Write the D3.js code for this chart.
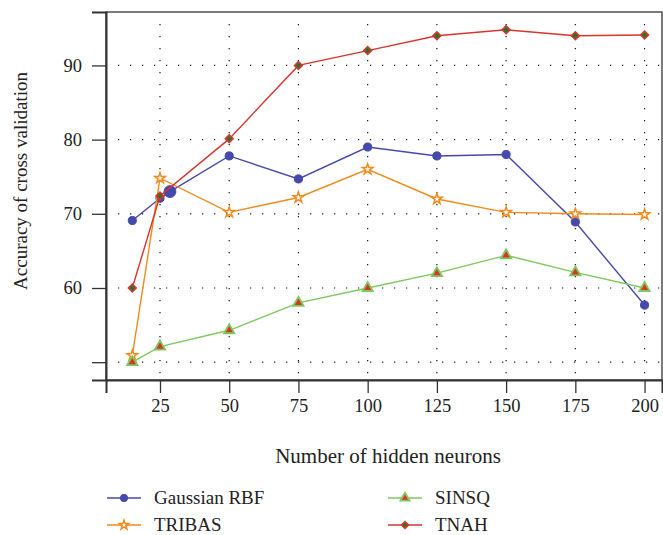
<!DOCTYPE html>
<html>
<head>
<meta charset="utf-8">
<script src="https://cdn.jsdelivr.net/npm/d3@7"></script>
<style>
  html, body { margin: 0; padding: 0; background: #fff; }
  #chart-container { width: 663px; height: 535px; }
  text { font-family: "Liberation Serif", "DejaVu Serif", serif; fill: #222; }
</style>
</head>
<body>
<div id="chart-container"></div>
<script>
// --- Data ---
const neurons = [15, 25, 50, 75, 100, 125, 150, 175, 200];
const xTicks = [25, 50, 75, 100, 125, 150, 175, 200];
const yTicks = [50, 60, 70, 80, 90];
const yTickLabels = ["", "60", "70", "80", "90"];

const gaussianRBF = [69.1, 72.1, 77.8, 74.7, 79.0, 77.8, 78.0, 68.9, 57.7];
const tribas = [50.9, 74.8, 70.2, 72.2, 76.0, 72.0, 70.2, 70.0, 69.9];
const sinsq = [50.0, 52.1, 54.3, 58.0, 60.0, 62.0, 64.4, 62.1, 60.0];
const tnah = [60.0, 72.4, 80.1, 90.0, 92.0, 94.0, 94.8, 94.0, 94.1];

// stray extra point on the Gaussian RBF curve (drawn bigger in the original)
const rbfExtra = { x: 28.6, y: 73.0 };

const seriesNames = ["Gaussian RBF", "TRIBAS", "SINSQ", "TNAH"];

// --- Configuration ---
const width = 663;
const height = 535;
const margin = { top: 12, right: 1, bottom: 155, left: 106 };

const x = d3.scaleLinear()
    .domain([5.5, 206.3])
    .range([margin.left, width - margin.right]);

const y = d3.scaleLinear()
    .domain([47.6, 97.2])
    .range([height - margin.bottom, margin.top]);

const svg = d3.select("#chart-container")
    .append("svg")
    .attr("width", width)
    .attr("height", height);

// --- Grid (dotted) ---
const grid = svg.append("g");
grid.selectAll(".hgrid")
    .data(yTicks)
    .enter()
    .append("line")
    .attr("x1", x.range()[0] + 12).attr("x2", x.range()[1])
    .attr("y1", d => y(d)).attr("y2", d => y(d))
    .attr("stroke", "#111").attr("stroke-width", 1.2)
    .attr("stroke-dasharray", "1.2,10.8");

grid.selectAll(".vgrid")
    .data(xTicks)
    .enter()
    .append("line")
    .attr("x1", d => x(d)).attr("x2", d => x(d))
    .attr("y1", y.range()[1] + 12).attr("y2", y.range()[0])
    .attr("stroke", "#111").attr("stroke-width", 1.2)
    .attr("stroke-dasharray", "1.2,10.8");

// --- Frame ---
svg.append("rect")
    .attr("x", x.range()[0]).attr("y", y.range()[1])
    .attr("width", x.range()[1] - x.range()[0])
    .attr("height", y.range()[0] - y.range()[1])
    .attr("fill", "none").attr("stroke", "#444").attr("stroke-width", 1.4);

// --- Axes ---
const xAxis = d3.axisBottom(x).tickValues(xTicks).tickSize(13).tickPadding(6);
const xg = svg.append("g")
    .attr("transform", `translate(0, ${y.range()[0]})`)
    .call(xAxis);
xg.select(".domain").attr("stroke", "#333").attr("stroke-width", 2);
xg.selectAll(".tick line").attr("stroke", "#333").attr("stroke-width", 1.3);
xg.selectAll("text").attr("font-size", "18.5px").attr("fill", "#222")
    .style("font-family", "Liberation Serif, serif");

const yAxis = d3.axisLeft(y).tickValues(yTicks).tickSize(14).tickPadding(10)
    .tickFormat((d, i) => yTickLabels[i]);
const yg = svg.append("g")
    .attr("transform", `translate(${x.range()[0]}, 0)`)
    .call(yAxis);
yg.select(".domain").attr("stroke", "#333").attr("stroke-width", 2);
yg.selectAll(".tick line").attr("stroke", "#333").attr("stroke-width", 1.3);
yg.selectAll("text").attr("font-size", "18.5px").attr("fill", "#222")
    .style("font-family", "Liberation Serif, serif");

// --- Axis titles ---
svg.append("text")
    .attr("x", 388)
    .attr("y", 463)
    .attr("text-anchor", "middle")
    .attr("font-size", "21px")
    .text("Number of hidden neurons");

svg.append("text")
    .attr("transform", "translate(27, 181) rotate(-90)")
    .attr("text-anchor", "middle")
    .attr("font-size", "19px")
    .text("Accuracy of cross validation");

// --- Series styles ---
const blue = "#4549ab", orange = "#f28a1c", green = "#7fc95c", red = "#d8352b", darkGreen = "#1d7a2c";

const styles = [
    { name: seriesNames[0], line: blue, symbol: d3.symbolCircle, size: 52, fill: blue, stroke: blue, sw: 1, rot: 0 },
    { name: seriesNames[1], line: orange, symbol: d3.symbolStar, size: 34, fill: "#fff", stroke: orange, sw: 1.5, rot: 0 },
    { name: seriesNames[2], line: green, symbol: d3.symbolTriangle, size: 46, fill: red, stroke: green, sw: 1.8, rot: 0 },
    { name: seriesNames[3], line: red, symbol: d3.symbolSquare, size: 30, fill: darkGreen, stroke: red, sw: 1.6, rot: 45 }
];

const rbfPoints = neurons.map((n, i) => ({ x: n, y: gaussianRBF[i] }));
rbfPoints.splice(2, 0, rbfExtra);

const seriesPoints = [
    rbfPoints,
    neurons.map((n, i) => ({ x: n, y: tribas[i] })),
    neurons.map((n, i) => ({ x: n, y: sinsq[i] })),
    neurons.map((n, i) => ({ x: n, y: tnah[i] }))
];

const line = d3.line().x(d => x(d.x)).y(d => y(d.y));

const plot = svg.append("g");
seriesPoints.forEach((pts, si) => {
    const s = styles[si];
    plot.append("path")
        .datum(pts)
        .attr("d", line)
        .attr("fill", "none")
        .attr("stroke", s.line)
        .attr("stroke-width", 1.4);

    plot.selectAll(null)
        .data(pts)
        .enter()
        .append("path")
        .attr("d", d => d3.symbol(s.symbol, d === rbfExtra ? 110 : s.size)())
        .attr("transform", d => `translate(${x(d.x)}, ${y(d.y)}) rotate(${s.rot})`)
        .attr("fill", s.fill)
        .attr("stroke", s.stroke)
        .attr("stroke-width", s.sw);
});

// --- Legend ---
const legendCols = [107, 388];
const legendRows = [498, 525];
legendCols.forEach((lx, c) => {
    legendRows.forEach((ly, r) => {
        const s = styles[c * 2 + r];
        const g = svg.append("g").attr("transform", `translate(${lx}, ${ly})`);
        g.append("line")
            .attr("x1", 0).attr("x2", 34)
            .attr("stroke", s.line).attr("stroke-width", 1.4);
        g.append("path")
            .attr("d", d3.symbol(s.symbol, s.size * 0.8)())
            .attr("transform", `translate(17, 0) rotate(${s.rot})`)
            .attr("fill", s.fill)
            .attr("stroke", s.stroke)
            .attr("stroke-width", s.sw);
        g.append("text")
            .attr("x", 47).attr("y", 6)
            .attr("font-size", "19px")
            .text(s.name);
    });
});
</script>
</body>
</html>
